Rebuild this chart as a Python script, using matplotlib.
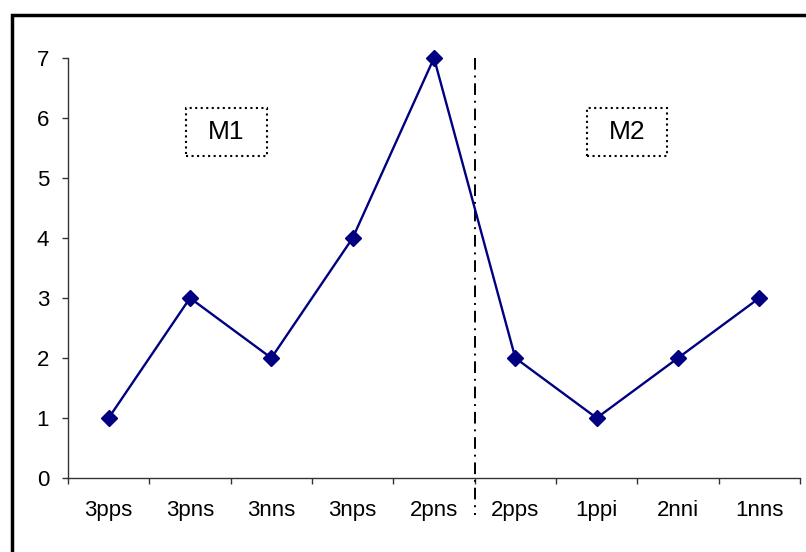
import numpy as np
import matplotlib
matplotlib.use('Agg')
import matplotlib.pyplot as plt
from matplotlib.patches import Rectangle

# data
categories = ['3pps', '3pns', '3nns', '3nps', '2pns', '2pps', '1ppi', '2nni', '1nns']
values = [1, 3, 2, 4, 7, 2, 1, 2, 3]
group_labels = ['M1', 'M2']

plt.rcParams['font.family'] = ['Liberation Sans', 'DejaVu Sans']

W, H = 806, 552
fig = plt.figure(figsize=(W / 100, H / 100), dpi=100)

# outer frame (cut off on right and bottom like the original)
fig.patches.append(Rectangle((11.5 / W, -0.1), 1.0, (H - 14.5) / H + 0.1,
                             transform=fig.transFigure, fill=False,
                             edgecolor='black', linewidth=2.5))

ax = fig.add_axes([68 / W, (H - 478) / H, 732 / W, 420 / H])
x = np.arange(len(categories))
ax.plot(x, values, color='#000080', linewidth=1.7, marker='D',
        markersize=8, clip_on=False, zorder=3)

ax.set_xlim(-0.5, len(categories) - 0.5)
ax.set_ylim(0, 7)
ax.set_yticks(range(0, 8))

ax.set_xticks(np.arange(-0.5, len(categories), 1))
ax.set_xticklabels([])
ax.set_xticks(x, minor=True)
ax.set_xticklabels(categories, minor=True)
ax.tick_params(axis='x', which='major', length=4.5, width=1, color='#333333')
ax.tick_params(axis='x', which='minor', length=0, pad=16, labelsize=16)
ax.tick_params(axis='y', length=4.5, width=1, color='#333333', pad=9, labelsize=16)

for s in ['top', 'right']:
    ax.spines[s].set_visible(False)
for s in ['left', 'bottom']:
    ax.spines[s].set_color('#333333')
    ax.spines[s].set_linewidth(1)

# separator between the two groups
ax.plot([4.5, 4.5], [7, -0.62], color='black', linewidth=1.4,
        linestyle=(0, (6, 3, 1, 3)), clip_on=False, zorder=2)

# group label boxes
for (x0, x1), lab in zip([(0.951, 1.947), (5.882, 6.865)], group_labels):
    ax.add_patch(Rectangle((x0, 5.367), x1 - x0, 0.8, fill=False,
                           edgecolor='black', linewidth=1.5, linestyle=':'))
    ax.text((x0 + x1) / 2, 5.767, lab, ha='center', va='center', fontsize=19)

fig.savefig('out.png', dpi=100)
